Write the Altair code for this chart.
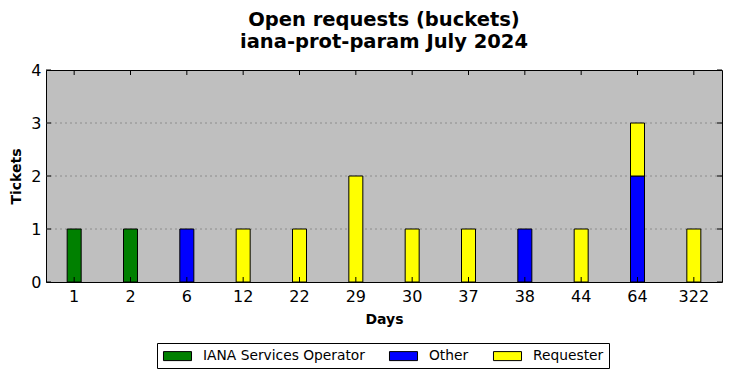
import altair as alt
import pandas as pd

days = ["1", "2", "6", "12", "22", "29", "30", "37", "38", "44", "64", "322"]
owners = ["IANA Services Operator", "Other", "Requester"]
colors = ["#008000", "#0000ff", "#ffff00"]
iana = [1, 1, 0, 0, 0, 0, 0, 0, 0, 0, 0, 0]
other = [0, 0, 1, 0, 0, 0, 0, 0, 1, 0, 2, 0]
requester = [0, 0, 0, 1, 1, 2, 1, 1, 0, 1, 1, 1]
y_ticks = [0, 1, 2, 3, 4]
grid_vals = [1, 2, 3]

rows = []
for i, d in enumerate(days):
    for k, (name, vals) in enumerate(zip(owners, [iana, other, requester])):
        if vals[i] > 0:
            rows.append({"Days": d, "Owner": name, "Tickets": vals[i], "ord": k})
df = pd.DataFrame(rows)
xt = pd.DataFrame({"Days": days})
yt = pd.DataFrame({"Tickets": y_ticks})
gd = pd.DataFrame({"Tickets": grid_vals})

FONT = "DejaVu Sans"
W, H = 676, 212

xscale = alt.Scale(domain=days, paddingInner=0, paddingOuter=0)
yscale = alt.Scale(domain=[0, 4], nice=False)

xaxis = alt.Axis(title="Days", labelAngle=0, ticks=False, domain=False,
                 labelFontSize=16, labelFont=FONT, labelColor="black",
                 labelPadding=6, titleFont=FONT, titleFontSize=14,
                 titleFontWeight="bold", titleColor="black", titlePadding=8)
yaxis = alt.Axis(title="Tickets", values=y_ticks, format="d", grid=False,
                 ticks=False, domain=False, labelFontSize=16, labelFont=FONT,
                 labelColor="black", labelPadding=5, titleFont=FONT,
                 titleFontSize=14, titleFontWeight="bold", titleColor="black",
                 titlePadding=7)

grid = alt.Chart(gd).mark_rule(color="#808080", strokeDash=[2, 3], strokeWidth=0.8).encode(
    y=alt.Y("Tickets:Q", scale=yscale, axis=yaxis)
)

bars = alt.Chart(df).mark_bar(size=14, stroke="black", strokeWidth=1).encode(
    x=alt.X("Days:N", sort=days, scale=xscale, axis=xaxis),
    y=alt.Y("Tickets:Q", stack="zero", scale=yscale, axis=yaxis),
    color=alt.Color("Owner:N", scale=alt.Scale(domain=owners, range=colors),
                    legend=alt.Legend(title=None, orient="none", legendX=111, legendY=273,
                                      direction="horizontal", strokeColor="black",
                                      fillColor="white", padding=5,
                                      symbolType="M-0.87,-0.6H2.87V0.6H-0.87Z",
                                      symbolSize=225, symbolStrokeColor="black",
                                      symbolStrokeWidth=1, symbolOpacity=1,
                                      labelFont=FONT, labelFontSize=13.8, labelLimit=400,
                                      labelColor="black", labelOffset=25,
                                      columnPadding=22, cornerRadius=0)),
    order=alt.Order("ord:Q"),
)

xt_bottom = alt.Chart(xt).mark_rule(color="black", strokeWidth=1).encode(
    x=alt.X("Days:N", sort=days, scale=xscale, axis=xaxis), y=alt.value(H), y2=alt.value(H - 5)
)
xt_top = alt.Chart(xt).mark_rule(color="black", strokeWidth=1).encode(
    x=alt.X("Days:N", sort=days, scale=xscale, axis=xaxis), y=alt.value(0), y2=alt.value(5)
)
yt_left = alt.Chart(yt).mark_rule(color="black", strokeWidth=1).encode(
    y=alt.Y("Tickets:Q", scale=yscale, axis=yaxis), x=alt.value(0), x2=alt.value(5)
)
yt_right = alt.Chart(yt).mark_rule(color="black", strokeWidth=1).encode(
    y=alt.Y("Tickets:Q", scale=yscale, axis=yaxis), x=alt.value(W), x2=alt.value(W - 5)
)

chart = alt.layer(grid, bars, xt_bottom, xt_top, yt_left, yt_right).properties(
    width=W, height=H,
    title=alt.TitleParams(["Open requests (buckets)", "iana-prot-param July 2024"],
                          font=FONT, fontSize=19.5, fontWeight="bold", color="black",
                          anchor="middle", lineHeight=22, offset=10),
    autosize=alt.AutoSizeParams(type="none"),
    padding={"left": 46, "top": 70, "right": 10, "bottom": 96},
    background="white",
).configure_view(fill="#bfbfbf", stroke="black", strokeWidth=1)

chart.save("out.html", embed_options={"renderer": "svg", "actions": False})
